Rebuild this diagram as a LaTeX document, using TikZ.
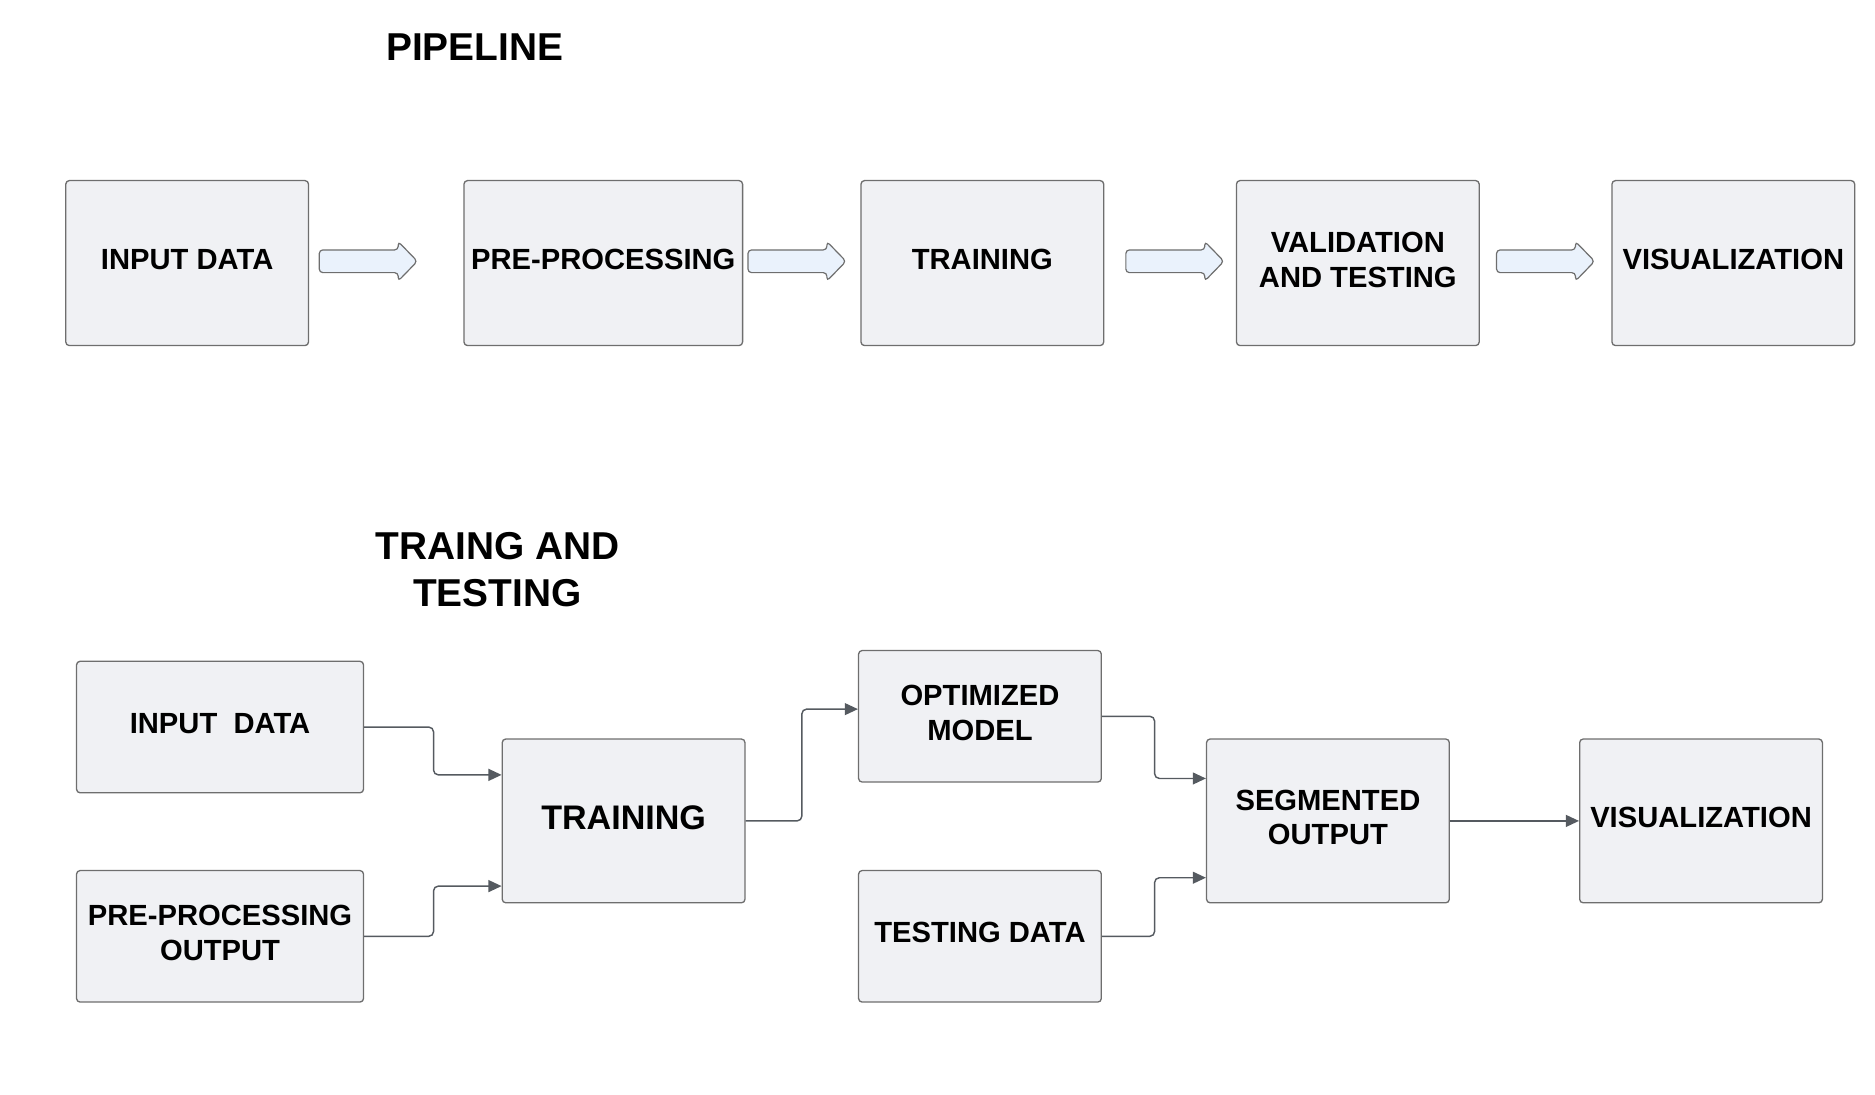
\documentclass[tikz,border=0pt]{standalone}
\usepackage{fontspec}
\setmainfont{Liberation Sans}
\usetikzlibrary{arrows.meta,calc}
\definecolor{boxfill}{HTML}{F0F1F4}
\definecolor{boxline}{HTML}{6E6E6E}
\definecolor{arrfill}{HTML}{EAF2FC}
\definecolor{connline}{HTML}{555A60}
\begin{document}
\begin{tikzpicture}[x=1pt,y=1pt,
  box/.style={draw=boxline,fill=boxfill,line width=1.1pt,rounded corners=3pt,
    inner sep=2pt,align=center,text depth=6pt,
    font=\fontsize{24.4}{29}\selectfont\bfseries},
  topbox/.style={box,minimum width=203pt,minimum height=138pt},
  smallbox/.style={box,minimum width=203pt,minimum height=110pt},
  bigbox/.style={box,minimum width=203pt,minimum height=137pt},
  blockarrow/.style={draw=boxline,fill=arrfill,line width=1pt,rounded corners=3pt},
  conn/.style={draw=connline,line width=1.2pt,rounded corners=4pt,
    -{Triangle[length=11pt,width=10pt]}},
  title/.style={align=center,font=\fontsize{32.5}{39}\selectfont\bfseries}
]
\useasboundingbox (0,0) rectangle (1568,-915.7);

% titles
\node[title] (t1) at (397,-39) {PIPELINE};
\node[title] (t2) at (416,-476.5) {TRAING AND\\TESTING};

% pipeline row
\node[topbox] (tin)  at (156.5,-220) {INPUT DATA};
\node[topbox,minimum width=233pt] (tpre) at (504.5,-220) {PRE-PROCESSING};
\node[topbox] (ttr)  at (821.5,-220) {TRAINING};
\node[topbox] (tval) at (1135.5,-220) {VALIDATION\\AND TESTING};
\node[topbox] (tvis) at (1449.5,-220) {VISUALIZATION};

\coordinate (a1) at (308,-218.5);
\coordinate (a2) at (666.5,-218.5);
\coordinate (a3) at (982.5,-218.5);
\coordinate (a4) at (1292.5,-218.5);
\foreach \a in {a1,a2,a3,a4}{
  \draw[blockarrow,shift={(\a)}] (-41,9.5) -- (25,9.5) -- (25,16.5) -- (41,0)
    -- (25,-16.5) -- (25,-9.5) -- (-41,-9.5) -- cycle;
}

% training and testing
\node[smallbox,minimum width=240pt] (bin)  at (184,-608) {INPUT~~DATA};
\node[smallbox,minimum width=240pt] (bpre) at (184,-783) {PRE-PROCESSING\\OUTPUT};
\node[bigbox,font=\fontsize{28.5}{34}\selectfont\bfseries] (btr) at (521.5,-686.5) {TRAINING};
\node[smallbox] (bopt)  at (819.5,-599) {OPTIMIZED\\MODEL};
\node[smallbox] (btest) at (819.5,-783) {TESTING DATA};
\node[bigbox] (bseg) at (1110.5,-686.5) {SEGMENTED\\OUTPUT};
\node[bigbox] (bvis) at (1422.5,-686.5) {VISUALIZATION};

\draw[conn] (bin.east) -- ++(58,0) |- ($(btr.west)+(0,38.5)$);
\draw[conn] (bpre.east) -- ++(58,0) |- ($(btr.west)+(0,-54.5)$);
\draw[conn] (btr.east) -- ++(47,0) |- ($(bopt.west)+(0,6)$);
\draw[conn] (bopt.east) -- ++(44,0) |- ($(bseg.west)+(0,35.5)$);
\draw[conn] (btest.east) -- ++(44,0) |- ($(bseg.west)+(0,-47.5)$);
\draw[conn] (bseg.east) -- (bvis.west);
\end{tikzpicture}
\end{document}
